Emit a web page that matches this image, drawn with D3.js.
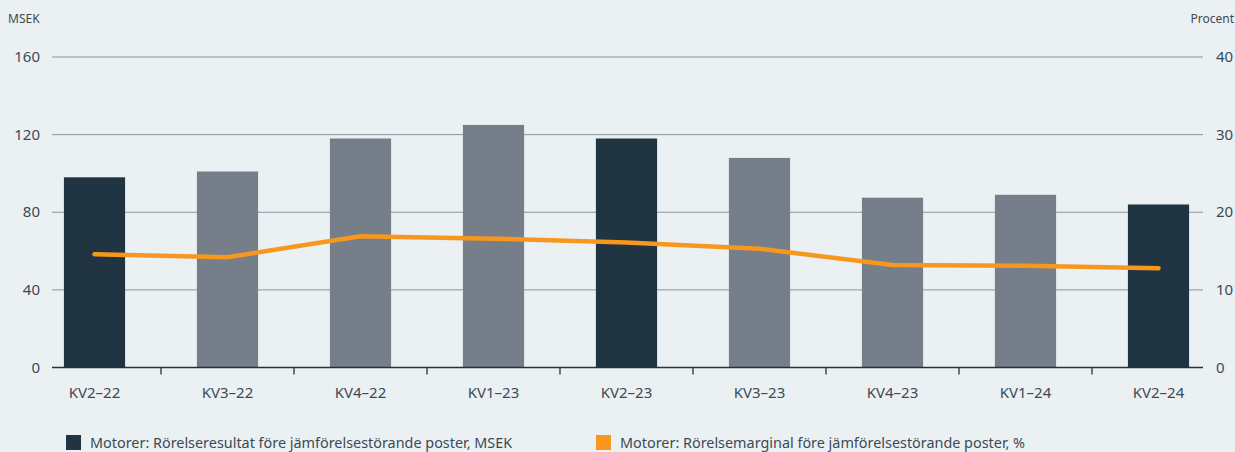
<!DOCTYPE html>
<html>
<head>
<meta charset="utf-8">
<script src="https://cdn.jsdelivr.net/npm/d3@7"></script>
<style>
  body { margin: 0; background: #ebf0f3; }
  svg { display: block; }
</style>
</head>
<body>
<div class="viz"></div>
<script>
var quarters = ["KV2–22", "KV3–22", "KV4–22", "KV1–23", "KV2–23", "KV3–23", "KV4–23", "KV1–24", "KV2–24"];
var resultat = [98, 101, 118, 125, 118, 108, 87.5, 89, 84];
var marginal = [14.6, 14.2, 16.9, 16.6, 16.1, 15.3, 13.2, 13.1, 12.8];
var leftTicks = [0, 40, 80, 120, 160];
var rightTicks = [0, 10, 20, 30, 40];
var legendLabels = ["Motorer: Rörelseresultat före jämförelsestörande poster, MSEK",
                    "Motorer: Rörelsemarginal före jämförelsestörande poster, %"];

var w = 1235;
var h = 452;
var axisLeft = 52, axisRight = 1203;
var textColor = "#3b4a55";
var darkBar = "#203541", grayBar = "#767f89", orange = "#f7971e";

var svg = d3.select(".viz")
    .append("svg")
    .attr("width", w)
    .attr("height", h)
    .style("font-family", "'Noto Sans', sans-serif");

var xScale = d3.scaleBand()
    .domain(quarters)
    .range([28, 1225])
    .paddingInner(0.54)
    .paddingOuter(0.27);

var yScale = d3.scaleLinear()
    .domain([0, 160])
    .range([367.5, 57]);

var y2Scale = d3.scaleLinear()
    .domain([0, 40])
    .range([367.5, 57]);

// gridlines
svg.selectAll("line.grid")
    .data(leftTicks.slice(1))
    .enter()
    .append("line")
    .attr("class", "grid")
    .attr("x1", axisLeft)
    .attr("x2", axisRight)
    .attr("y1", function(d) { return yScale(d); })
    .attr("y2", function(d) { return yScale(d); })
    .attr("stroke", "#8b949c")
    .attr("stroke-width", 1);

// bars
svg.selectAll("rect.bar")
    .data(resultat)
    .enter()
    .append("rect")
    .attr("class", "bar")
    .attr("x", function(d, i) { return xScale(quarters[i]); })
    .attr("y", function(d) { return yScale(d); })
    .attr("width", xScale.bandwidth())
    .attr("height", function(d) { return yScale(0) - yScale(d); })
    .attr("fill", function(d, i) {
        return quarters[i].indexOf("KV2") === 0 ? darkBar : grayBar;
    });

// x baseline + ticks between categories
svg.append("line")
    .attr("x1", axisLeft)
    .attr("x2", axisRight)
    .attr("y1", yScale(0))
    .attr("y2", yScale(0))
    .attr("stroke", "#1f3440")
    .attr("stroke-width", 1.5);

var gap = (xScale.step() - xScale.bandwidth()) / 2;
svg.selectAll("line.xtick")
    .data(quarters.slice(1))
    .enter()
    .append("line")
    .attr("class", "xtick")
    .attr("x1", function(d) { return xScale(d) - gap; })
    .attr("x2", function(d) { return xScale(d) - gap; })
    .attr("y1", yScale(0))
    .attr("y2", yScale(0) + 7)
    .attr("stroke", "#1f3440")
    .attr("stroke-width", 1.3);

svg.selectAll("text.xlabel")
    .data(quarters)
    .enter()
    .append("text")
    .attr("class", "xlabel")
    .attr("x", function(d) { return xScale(d) + xScale.bandwidth() / 2; })
    .attr("y", 398)
    .attr("text-anchor", "middle")
    .attr("font-size", "15px")
    .attr("fill", textColor)
    .text(function(d) { return d; });

// y labels
svg.selectAll("text.yleft")
    .data(leftTicks)
    .enter()
    .append("text")
    .attr("class", "yleft")
    .attr("x", 40)
    .attr("y", function(d) { return yScale(d) + 5; })
    .attr("text-anchor", "end")
    .attr("font-size", "15px")
    .attr("fill", textColor)
    .text(function(d) { return d; });

svg.selectAll("text.yright")
    .data(rightTicks)
    .enter()
    .append("text")
    .attr("class", "yright")
    .attr("x", 1216)
    .attr("y", function(d) { return y2Scale(d) + 5; })
    .attr("text-anchor", "start")
    .attr("font-size", "15px")
    .attr("fill", textColor)
    .text(function(d) { return d; });

svg.append("text")
    .attr("x", 8)
    .attr("y", 23)
    .attr("font-size", "12px")
    .attr("fill", textColor)
    .text("MSEK");

svg.append("text")
    .attr("x", 1234)
    .attr("y", 23)
    .attr("text-anchor", "end")
    .attr("font-size", "12px")
    .attr("fill", textColor)
    .text("Procent");

// margin line
var line = d3.line()
    .x(function(d, i) { return xScale(quarters[i]) + xScale.bandwidth() / 2; })
    .y(function(d) { return y2Scale(d); });

svg.append("path")
    .datum(marginal)
    .attr("d", line)
    .attr("fill", "none")
    .attr("stroke", orange)
    .attr("stroke-width", 4.5)
    .attr("stroke-linecap", "round")
    .attr("stroke-linejoin", "round");

// legend
var legendX = [66, 596];
var legendColors = [darkBar, orange];
var legend = svg.selectAll("g.legend")
    .data(legendLabels)
    .enter()
    .append("g")
    .attr("class", "legend")
    .attr("transform", function(d, i) { return "translate(" + legendX[i] + ",435)"; });

legend.append("rect")
    .attr("width", 15)
    .attr("height", 15)
    .attr("fill", function(d, i) { return legendColors[i]; });

legend.append("text")
    .attr("x", 24)
    .attr("y", 13)
    .attr("font-size", "14.4px")
    .attr("fill", textColor)
    .text(function(d) { return d; });
</script>
</body>
</html>
